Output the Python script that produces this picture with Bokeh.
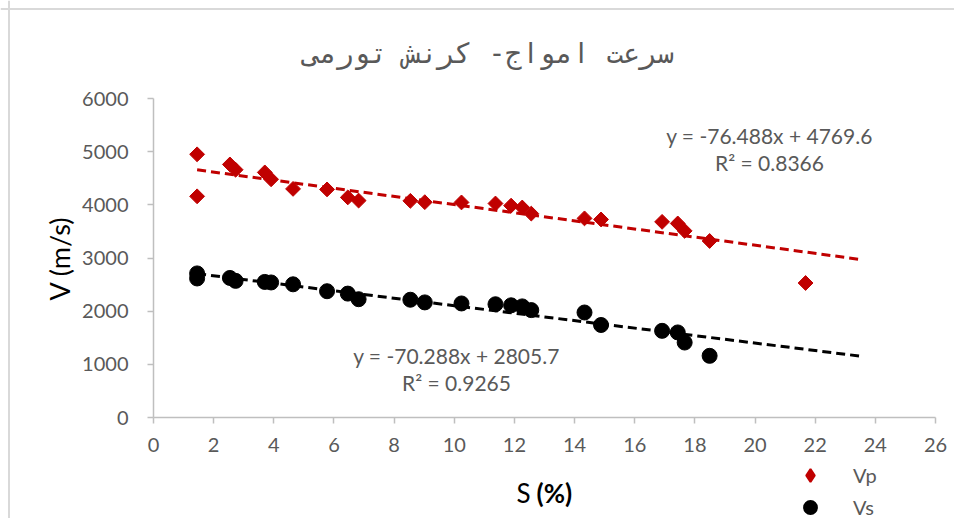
import numpy as np
from bokeh.plotting import figure
from bokeh.models import (ColumnDataSource, Label, Legend, LegendItem,
                          FixedTicker, Range1d, Span)
from bokeh.embed import file_html
from bokeh.resources import INLINE

# ---- data ----
title_text = "سرعت امواج- کرنش تورمی"
y_label = "V (m/s)"
x_label_a = "S"
x_label_b = "(%)"
series_names = ["Vp", "Vs"]

s_vals = [1.45, 1.45, 2.54, 2.73, 3.70, 3.91, 4.64, 5.77, 6.46, 6.82,
          8.54, 9.02, 10.24, 11.37, 11.89, 12.26, 12.56, 14.33, 14.88,
          16.91, 17.43, 17.66, 18.49]
vp_vals = [4950, 4160, 4760, 4660, 4610, 4480, 4300, 4290, 4140, 4080,
           4075, 4050, 4045, 4025, 3985, 3950, 3835, 3745, 3725,
           3680, 3650, 3510, 3320]
vs_vals = [2710, 2615, 2625, 2570, 2550, 2540, 2505, 2375, 2330, 2225,
           2215, 2165, 2145, 2130, 2110, 2090, 2020, 1975, 1740,
           1630, 1600, 1410, 1160]
s_extra = [21.68]
vp_extra = [2530]

vp_slope, vp_intercept, vp_r2 = -76.488, 4769.6, 0.8366
vs_slope, vs_intercept, vs_r2 = -70.288, 2805.7, 0.9265
trend_x = [1.45, 23.57]

x_min, x_max = 0, 26
y_min, y_max = 0, 6000
x_ticks = list(range(x_min, x_max + 1, 2))
y_ticks = list(range(y_min, y_max + 1, 1000))

# ---- layout (pixels) ----
W, H = 954, 518
FL, FR, FT, FB = 153, 935, 98, 417   # plot-area edges in page pixels

kx = (FR - FL) / (x_max - x_min)
ky = (FB - FT) / (y_max - y_min)
def px2x(px): return x_min + (px - FL) / kx
def py2y(py): return y_min + (FB - py) / ky

RED = "#C00000"
GRAY_TXT = "#595959"
AXIS = "#BFBFBF"
FONT = "Lato"

p = figure(width=W, height=H, output_backend="svg", toolbar_location=None,
           x_range=Range1d(px2x(0), px2x(W)), y_range=Range1d(py2y(H), py2y(0)),
           min_border=0)
p.outline_line_color = None
p.xgrid.grid_line_color = None
p.ygrid.grid_line_color = None

# chart border (top / left)
p.add_layout(Span(location=px2x(8.5), dimension="height", line_color="#D9D9D9",
                  line_width=2))
p.add_layout(Span(location=py2y(8.5), dimension="width", line_color="#D9D9D9",
                  line_width=2))

for ax, ticks, bnds in ((p.xaxis, x_ticks, (x_min, x_max)),
                        (p.yaxis, y_ticks, (y_min, y_max))):
    ax.fixed_location = 0
    ax.bounds = bnds
    ax.ticker = FixedTicker(ticks=ticks)
    ax.axis_line_color = AXIS
    ax.axis_line_width = 1.5
    ax.major_tick_line_color = AXIS
    ax.major_tick_line_width = 1.5
    ax.minor_tick_line_color = None
    ax.major_tick_in = 0
    ax.major_tick_out = 6
    ax.major_label_text_font = FONT
    ax.major_label_text_font_size = "20px"
    ax.major_label_text_color = GRAY_TXT

p.xaxis.major_label_standoff = 14
p.yaxis.major_label_standoff = 19

# axis titles
p.add_layout(Label(x=px2x(59), y=py2y(258), text=y_label, angle=np.pi / 2,
                   text_align="center", text_baseline="middle", text_font=FONT,
                   text_font_size="27px", text_color="black"))
p.add_layout(Label(x=px2x(530), y=py2y(492), text=x_label_a, text_align="right",
                   text_baseline="middle", text_font=FONT,
                   text_font_size="26px", text_color="black"))
p.add_layout(Label(x=px2x(536), y=py2y(492), text=x_label_b, text_align="left",
                   text_baseline="middle", text_font=FONT, text_font_style="bold",
                   text_font_size="26px", text_color="black"))

# trend lines
tx = np.array(trend_x)
p.line(tx, vp_slope * tx + vp_intercept, line_color=RED, line_width=3,
       line_dash="9 5")
p.line(tx, vs_slope * tx + vs_intercept, line_color="black", line_width=3,
       line_dash="9 5")

src_p = ColumnDataSource(dict(x=s_vals + s_extra, y=vp_vals + vp_extra))
src_s = ColumnDataSource(dict(x=s_vals, y=vs_vals))
p.scatter("x", "y", source=src_p, marker="square", angle=np.pi / 4,
          size=10.5, fill_color=RED, line_color=RED)
p.scatter("x", "y", source=src_s, marker="circle", size=15,
          fill_color="black", line_color="black")

# hidden renderers used only for the legend swatches
lg_vp = p.scatter("x", "y", source=src_p, marker="diamond", size=12,
                  fill_color=RED, line_color=RED, line_width=2, visible=False)
lg_vs = p.scatter("x", "y", source=src_s, marker="circle", size=12,
                  fill_color="black", line_color="black", line_width=2,
                  visible=False)

# equations
for (m, b, r2, cx, cy1, cy2) in ((vp_slope, vp_intercept, vp_r2, 769, 135, 162),
                                 (vs_slope, vs_intercept, vs_r2, 456, 355, 382)):
    p.add_layout(Label(x=px2x(cx), y=py2y(cy1), text=f"y = {m}x + {b}",
                       text_align="center", text_baseline="middle",
                       text_font=FONT, text_font_size="21px",
                       text_color=GRAY_TXT))
    p.add_layout(Label(x=px2x(cx), y=py2y(cy2), text=f"R² = {r2}",
                       text_align="center", text_baseline="middle",
                       text_font=FONT, text_font_size="21px",
                       text_color=GRAY_TXT))

# title
p.add_layout(Label(x=px2x(488), y=py2y(53), text=title_text,
                   text_align="center", text_baseline="middle",
                   text_font="DejaVu Sans Mono", text_font_size="28px",
                   text_color=GRAY_TXT))

legend = Legend(items=[LegendItem(label=series_names[0], renderers=[lg_vp]),
                       LegendItem(label=series_names[1], renderers=[lg_vs])],
                location=(794, -5), orientation="vertical",
                background_fill_alpha=0, border_line_color=None,
                padding=0, spacing=0, glyph_width=32, glyph_height=32,
                label_standoff=27, label_text_font=FONT,
                label_text_font_size="20px", label_text_color=GRAY_TXT)
p.add_layout(legend, "center")

open("out.html", "w").write(file_html(p, INLINE))
